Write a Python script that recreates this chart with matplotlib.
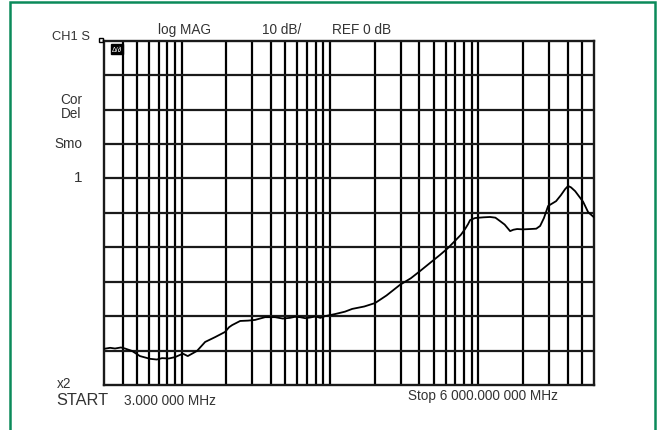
import numpy as np
import matplotlib
matplotlib.use("Agg")
import matplotlib.pyplot as plt
from matplotlib.patches import Rectangle

plt.rcParams['font.family'] = ['Liberation Sans', 'DejaVu Sans']

# trace: frequency (MHz) and log magnitude (dB)
freq_mhz = [3.0, 3.3, 3.56, 3.9, 4.15, 4.63, 5.24, 6.13, 6.8, 7.38, 8.2, 9.03,
            10.2, 11.0, 12.7, 14.4, 16.8, 19.6, 20.9, 21.9, 24.8, 28.0, 31.2,
            36.5, 42.6, 48.0, 53.7, 58.0, 62.8, 68.0, 73.3, 80.0, 86.0, 92.5,
            108, 126, 141, 170, 201, 240, 296, 350, 404, 470, 551, 620, 696,
            760, 812, 850, 878, 949, 1080, 1197, 1300, 1398, 1500, 1633, 1720,
            1820, 2000, 2228, 2450, 2602, 2760, 2945, 3333, 3600, 3835, 4015,
            4200, 4479, 5071, 5478, 6000]
mag_db = [-49.5, -49.2, -49.4, -49.1, -49.4, -50.1, -51.6, -52.4, -52.6, -52.2,
          -52.3, -51.9, -50.9, -51.6, -50.1, -47.5, -46.1, -44.6, -43.2, -42.6,
          -41.4, -41.3, -41.1, -40.3, -40.3, -40.7, -40.5, -40.2, -40.3, -40.6,
          -40.4, -40.1, -40.5, -40.0, -39.4, -38.7, -37.9, -37.2, -36.2, -34.0,
          -30.9, -29.0, -26.9, -24.6, -22.2, -20.3, -18.1, -16.4, -14.7, -13.3,
          -12.1, -11.5, -11.3, -11.2, -11.4, -12.4, -13.4, -15.3, -14.9, -14.7,
          -14.8, -14.7, -14.6, -13.8, -11.5, -8.0, -6.6, -4.8, -3.1, -2.2,
          -2.6, -3.7, -6.8, -9.8, -11.3]

f_start, f_stop = 3.0, 6000.0
db_top, db_bottom = 40, -60
grid_freqs = [k * 10.0 ** d for d in range(0, 4) for k in range(1, 10)]
grid_freqs = [g for g in grid_freqs if f_start < g < f_stop]

fig = plt.figure(figsize=(6.6, 4.31), dpi=100)
ax = fig.add_axes([104 / 660, 1 - 386 / 431, 490 / 660, (386 - 41.7) / 431])
ax.set_xscale('log')
ax.set_xlim(f_start, f_stop)
ax.set_ylim(db_bottom, db_top)

for g in grid_freqs:
    ax.axvline(g, color='black', lw=1.6, zorder=1)
for lev in range(db_bottom + 10, db_top, 10):
    ax.axhline(lev, color='#1a1a1a', lw=1.6, zorder=1)

ax.plot(freq_mhz, mag_db, color='black', lw=1.3, zorder=3)

ax.set_xticks([])
ax.set_yticks([])
ax.minorticks_off()
for sp in ax.spines.values():
    sp.set_linewidth(1.7)
    sp.set_color('#1a1a1a')

tc = '#333333'
fs = 9.8
fig.text(71 / 660, 1 - 37 / 431, 'CH1 S', fontsize=9.3, color=tc, ha='center', va='center')
fig.text(184.5 / 660, 1 - 30 / 431, 'log MAG', fontsize=fs, color=tc, ha='center', va='center')
fig.text(281.5 / 660, 1 - 30 / 431, '10 dB/', fontsize=fs, color=tc, ha='center', va='center')
fig.text(362 / 660, 1 - 30 / 431, 'REF 0 dB', fontsize=fs, color=tc, ha='center', va='center')
fig.text(71 / 660, 1 - 100 / 431, 'Cor', fontsize=fs, color=tc, ha='center', va='center')
fig.text(71 / 660, 1 - 114 / 431, 'Del', fontsize=fs, color=tc, ha='center', va='center')
fig.text(68.5 / 660, 1 - 144 / 431, 'Smo', fontsize=fs, color=tc, ha='center', va='center')
fig.text(78 / 660, 1 - 178 / 431, '1', fontsize=11, color=tc, ha='center', va='center')
fig.text(57 / 660, 1 - 384 / 431, 'x2', fontsize=fs, color=tc, ha='left', va='center')
fig.text(56 / 660, 1 - 401 / 431, 'START', fontsize=11.8, color=tc, ha='left', va='center')
fig.text(124 / 660, 1 - 401 / 431, '3.000 000 MHz', fontsize=fs, color=tc, ha='left', va='center')
fig.text(408 / 660, 1 - 396 / 431, 'Stop 6 000.000 000 MHz', fontsize=fs, color=tc, ha='left', va='center')

# little reference marker in the corner and the boxed annotation
fig.patches.append(Rectangle((99 / 660, 1 - 43 / 431), 4 / 660, 4 / 431,
                             transform=fig.transFigure, fill=False, ec='black', lw=1))
fig.text(117 / 660, 1 - 50 / 431, 'Δ/∂', fontsize=5, color='white', ha='center', va='center',
         bbox=dict(boxstyle='square,pad=0.15', fc='black', ec='black'))

# green frame around the screen shot
fig.patches.append(Rectangle((10 / 660, -0.02), 645 / 660, 1.02 - 3 / 431,
                             transform=fig.transFigure, fill=False, ec='#0b8a5a', lw=1.8))

fig.savefig('out.png', dpi=100)
